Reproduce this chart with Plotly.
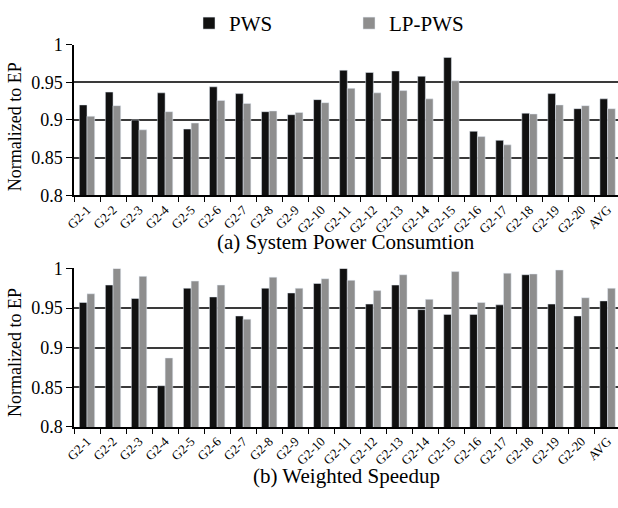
import plotly.graph_objects as go

categories = ["G2-1", "G2-2", "G2-3", "G2-4", "G2-5", "G2-6", "G2-7", "G2-8", "G2-9", "G2-10",
              "G2-11", "G2-12", "G2-13", "G2-14", "G2-15", "G2-16", "G2-17", "G2-18", "G2-19", "G2-20", "AVG"]

power_pws = [0.920, 0.937, 0.900, 0.936, 0.888, 0.944, 0.935, 0.911, 0.907, 0.927,
             0.966, 0.963, 0.965, 0.958, 0.983, 0.885, 0.873, 0.909, 0.935, 0.915, 0.928]
power_lp_pws = [0.905, 0.919, 0.887, 0.911, 0.896, 0.926, 0.922, 0.912, 0.910, 0.923,
                0.942, 0.936, 0.939, 0.928, 0.952, 0.878, 0.867, 0.908, 0.920, 0.919, 0.915]

speed_pws = [0.957, 0.979, 0.962, 0.852, 0.975, 0.964, 0.940, 0.975, 0.969, 0.981,
             1.000, 0.955, 0.979, 0.948, 0.942, 0.942, 0.954, 0.992, 0.955, 0.940, 0.959]
speed_lp_pws = [0.968, 1.000, 0.990, 0.887, 0.984, 0.979, 0.936, 0.989, 0.975, 0.987,
                0.985, 0.972, 0.992, 0.961, 0.996, 0.957, 0.994, 0.993, 0.998, 0.963, 0.975]

series_names = ["PWS", "LP-PWS"]
captions = ["(a) System Power Consumtion", "(b) Weighted Speedup"]
y_title = "Normalized to EP"
y_ticks = [0.8, 0.85, 0.9, 0.95, 1]
y_tick_text = ["0.8", "0.85", "0.9", "0.95", "1"]

BLACK = "#111111"
GRAY = "#8e8e8e"
FONT = "Liberation Serif, Tinos, Times New Roman, serif"

W, H = 618, 508
ML = 74

fig = go.Figure()
fig.add_trace(go.Bar(x=categories, y=power_pws, name=series_names[0], marker_color=BLACK,
                     xaxis="x", yaxis="y", legendgroup="a", showlegend=True))
fig.add_trace(go.Bar(x=categories, y=power_lp_pws, name=series_names[1], marker_color=GRAY,
                     xaxis="x", yaxis="y", legendgroup="b", showlegend=True))
fig.add_trace(go.Bar(x=categories, y=speed_pws, name=series_names[0], marker_color=BLACK,
                     xaxis="x2", yaxis="y2", legendgroup="a", showlegend=False))
fig.add_trace(go.Bar(x=categories, y=speed_lp_pws, name=series_names[1], marker_color=GRAY,
                     xaxis="x2", yaxis="y2", legendgroup="b", showlegend=False))

def ydom(top_px, bot_px):
    return [1 - bot_px / H, 1 - top_px / H]

xcommon = dict(type="category", range=[-0.5, 20.4], showline=True, linecolor="black", linewidth=1.5,
               ticks="outside", tickson="boundaries", ticklen=5, tickwidth=1.3, tickcolor="black",
               tickangle=-45, tickfont=dict(family=FONT, size=13, color="black"),
               showgrid=False, zeroline=False, fixedrange=True)
ycommon = dict(range=[0.8, 1.0], tickvals=y_ticks, ticktext=y_tick_text, showline=True,
               linecolor="black", linewidth=1.5, ticks="outside", ticklen=6, tickwidth=1.3,
               tickcolor="black", tickfont=dict(family=FONT, size=18, color="black"),
               showgrid=True, gridcolor="#3a3a3a", gridwidth=2, zeroline=False, fixedrange=True)

top_dom = ydom(36, 193)
bot_dom = ydom(269, 434)

fig.update_layout(
    width=W, height=H,
    margin=dict(l=ML, r=0, t=0, b=0),
    paper_bgcolor="white", plot_bgcolor="white",
    barmode="group", bargap=0.41, bargroupgap=0.0,
    font=dict(family=FONT, color="black"),
    xaxis=dict(domain=[0, 1], anchor="y", **xcommon),
    yaxis=dict(domain=top_dom, anchor="x", **ycommon),
    xaxis2=dict(domain=[0, 1], anchor="y2", **xcommon),
    yaxis2=dict(domain=bot_dom, anchor="x2", **ycommon),
    legend=dict(orientation="h", x=(189 - ML) / (W - ML), xanchor="left",
                y=1 - 14 / H, yanchor="middle", entrywidth=115,
                font=dict(family=FONT, size=21, color="black"),
                bgcolor="rgba(0,0,0,0)"),
    showlegend=True,
)

plot_w = W - ML
annotations = [
    dict(text=captions[0], xref="paper", yref="paper", x=0.5, y=1 - 242 / H,
         xanchor="center", yanchor="middle", showarrow=False,
         font=dict(family=FONT, size=21, color="black")),
    dict(text=captions[1], xref="paper", yref="paper", x=0.5, y=1 - 485 / H,
         xanchor="center", yanchor="middle", showarrow=False,
         font=dict(family=FONT, size=21, color="black")),
    dict(text=y_title, xref="paper", yref="paper", x=(15 - ML) / plot_w, y=1 - 122 / H,
         xanchor="center", yanchor="middle", textangle=-90, showarrow=False,
         font=dict(family=FONT, size=18, color="black")),
    dict(text=y_title, xref="paper", yref="paper", x=(15 - ML) / plot_w, y=1 - 357 / H,
         xanchor="center", yanchor="middle", textangle=-90, showarrow=False,
         font=dict(family=FONT, size=18, color="black")),
]
fig.update_layout(annotations=annotations)

fig.write_html("out.html", config={"displayModeBar": False},
               post_script="document.body.style.margin='0';document.body.style.overflow='hidden';")
